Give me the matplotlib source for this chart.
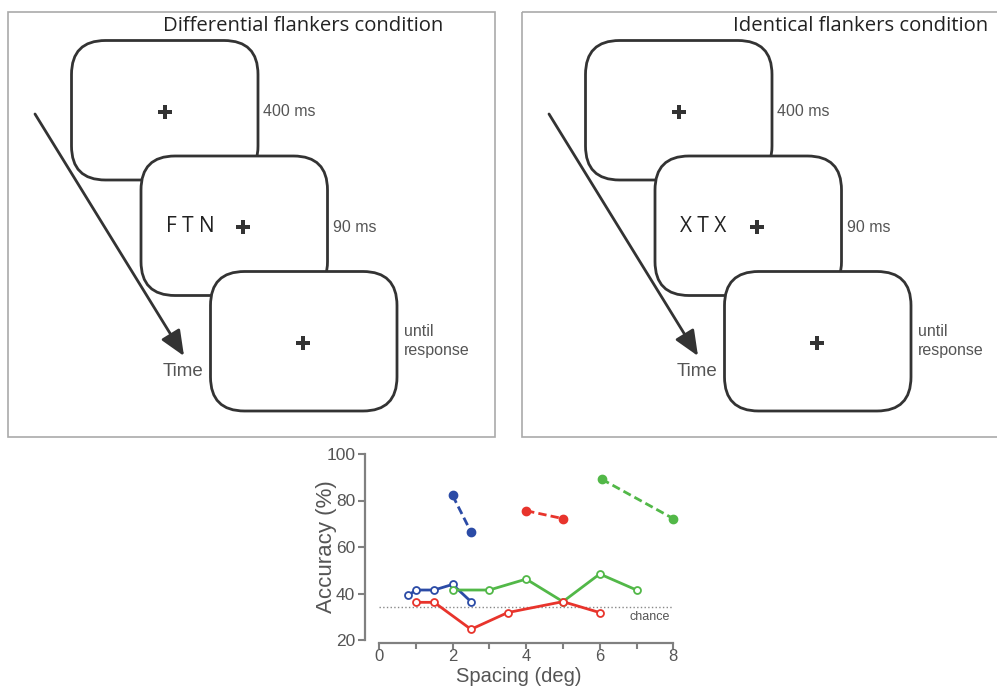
import matplotlib.pyplot as plt
from matplotlib.patches import FancyBboxPatch, FancyArrowPatch, Rectangle

# accuracy data
blue_x = [0.8, 1.0, 1.5, 2.0, 2.5]
blue_y = [39.2, 41.5, 41.5, 43.9, 36.5]
blue_id_x = [2.0, 2.5]
blue_id_y = [82.2, 66.5]

red_x = [1.0, 1.5, 2.5, 3.5, 5.0, 6.0]
red_y = [36.2, 36.2, 24.6, 31.8, 36.5, 31.8]
red_id_x = [4.0, 5.0]
red_id_y = [75.6, 72.2]

green_x = [2.0, 3.0, 4.0, 5.0, 6.0, 7.0]
green_y = [41.5, 41.5, 46.2, 36.5, 48.4, 41.5]
green_id_x = [6.05, 8.0]
green_id_y = [89.2, 72.2]

chance = 34

x_ticks = [0, 1, 2, 3, 4, 5, 6, 7, 8]
x_ticklabels = ['0', '', '2', '', '4', '', '6', '', '8']
y_ticks = [20, 40, 60, 80, 100]

durations = ['400 ms', '90 ms', 'until\nresponse']

BLUE = '#2b4ba6'
RED = '#e8342c'
GREEN = '#52b848'
DARK = '#333333'
GREY_TXT = '#555555'


def draw_panel(ax, dx, title, title_x, letters):
    # frame
    ax.add_patch(Rectangle((8 + dx, 12), 487, 425, fill=False,
                           edgecolor='#aaaaaa', lw=1.2))
    ax.text(title_x, 26, title, fontsize=14.6, family='Open Sans',
            color='#222222', ha='left', va='center')

    # three screens, each shifted down/right
    cross_dx = [93.5, 102, 92.5]
    for i in range(3):
        x0 = 71.5 + dx + 69.5 * i
        y0 = 40.5 + 115.5 * i
        ax.add_patch(FancyBboxPatch((x0, y0), 186.5, 139.5,
                                    boxstyle='round,pad=0,rounding_size=34',
                                    facecolor='white', edgecolor=DARK,
                                    lw=2.0, zorder=2 + i))
        ax.plot(x0 + cross_dx[i], y0 + 71, marker='P', markersize=10,
                color=DARK, markeredgewidth=0, zorder=5)
    ax.text(166 + dx, 227, letters, fontsize=15, family='Open Sans',
            color='#222222', ha='left', va='center', zorder=6)

    # durations
    ax.text(263 + dx, 112, durations[0], fontsize=11.5,
            family='Liberation Sans', color=GREY_TXT, va='center')
    ax.text(333 + dx, 227, durations[1], fontsize=11.5,
            family='Liberation Sans', color=GREY_TXT, va='center')
    ax.text(404 + dx, 341, durations[2], fontsize=11.5,
            family='Liberation Sans', color=GREY_TXT, va='center',
            linespacing=1.25)

    # time arrow
    ax.add_patch(FancyArrowPatch((35 + dx, 114), (184 + dx, 356),
                                 arrowstyle='-|>,head_length=0.7,head_width=0.3',
                                 mutation_scale=22, lw=2.0, color=DARK,
                                 shrinkA=0, shrinkB=0))
    ax.text(163 + dx, 371, 'Time', fontsize=13.5, family='Liberation Sans',
            color=GREY_TXT, va='center')


fig = plt.figure(figsize=(9.97, 6.86), dpi=100)

bg = fig.add_axes([0, 0, 1, 1])
bg.set_xlim(0, 997)
bg.set_ylim(686, 0)
bg.axis('off')

draw_panel(bg, 0, 'Differential flankers condition', 163, 'F T N')
draw_panel(bg, 514, 'Identical flankers condition', 733, 'X T X')

# accuracy plot
W, H = 997, 686
left_px, right_px = 365, 673.3
top_px, bot_px = 454, 640
ax = fig.add_axes([left_px / W, 1 - bot_px / H,
                   (right_px - left_px) / W, (bot_px - top_px) / H])
ax.set_xlim(-(379 - left_px) / 36.8, 8)
ax.set_ylim(20, 100)

ax.plot([0, 8], [chance, chance], ls=':', color='#888888', lw=1.0)
ax.text(7.9, chance - 1.5, 'chance', fontsize=9, family='Liberation Sans',
        color=GREY_TXT, ha='right', va='top')

for xs, ys, c in [(blue_x, blue_y, BLUE), (green_x, green_y, GREEN),
                  (red_x, red_y, RED)]:
    ax.plot(xs, ys, '-o', color=c, lw=2.0, markersize=5,
            markerfacecolor='white', markeredgewidth=1.3, clip_on=False)

for xs, ys, c in [(blue_id_x, blue_id_y, BLUE), (red_id_x, red_id_y, RED),
                  (green_id_x, green_id_y, GREEN)]:
    ax.plot(xs, ys, '--o', color=c, lw=2.0, markersize=6,
            dashes=(3, 1.5), clip_on=False)

for s in ['top', 'right']:
    ax.spines[s].set_visible(False)
for s in ['left', 'bottom']:
    ax.spines[s].set_color('#808080')
    ax.spines[s].set_linewidth(1.6)
ax.spines['bottom'].set_bounds(0, 8)
ax.spines['left'].set_bounds(20, 100)
ax.spines['bottom'].set_position(('outward', 2))

ax.set_xticks(x_ticks)
ax.set_xticklabels(x_ticklabels)
ax.set_yticks(y_ticks)
ax.tick_params(direction='out', length=5, width=1.5, color='#808080',
               labelsize=12.5, labelcolor=GREY_TXT, pad=2)
ax.tick_params(axis='x', length=4, pad=0.5, labelsize=12)
for lab in ax.get_xticklabels() + ax.get_yticklabels():
    lab.set_family('Liberation Sans')

ax.set_xlabel('Spacing (deg)', fontsize=14.5, family='Liberation Sans',
              color=GREY_TXT)
ax.set_ylabel('Accuracy (%)', fontsize=16, family='Liberation Sans',
              color=GREY_TXT)
ax.xaxis.set_label_coords(0.5, -(685.5 - bot_px) / (bot_px - top_px))
ax.xaxis.label.set_va('bottom')
ax.yaxis.set_label_coords((326 - left_px) / (right_px - left_px), 0.5)
ax.yaxis.label.set_va('center')

fig.savefig('out.png', dpi=100)
